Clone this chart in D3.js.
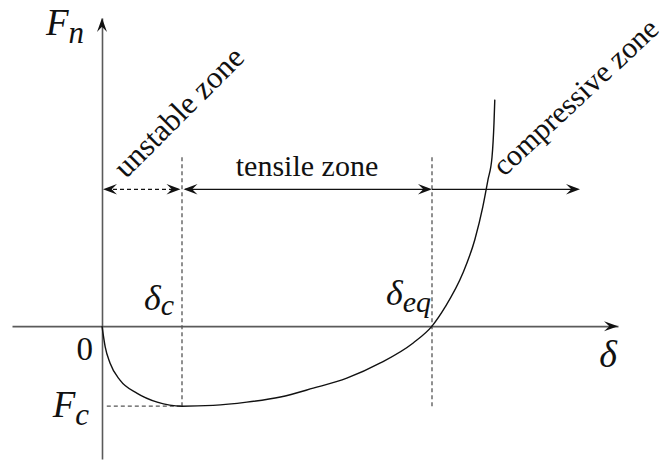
<!DOCTYPE html>
<html>
<head>
<meta charset="utf-8">
<script src="https://cdn.jsdelivr.net/npm/d3@7"></script>
</head>
<body style="margin:0">
<svg id="fd-diagram" width="672" height="461"></svg>
<script>
// Normal force F_n versus separation δ (dimensionless units, δc = 1, |Fc| = 1)
const curveDelta = [0, 0.04, 0.1, 0.225, 0.44, 0.69, 1.0, 1.39, 1.81, 2.23, 2.64, 3.06, 3.48, 3.89, 4.125, 4.29, 4.51, 4.66, 4.76, 4.825, 4.875, 4.9, 4.91];
const curveForce = [0, -0.26, -0.46, -0.675, -0.84, -0.95, -1.0, -0.99, -0.95, -0.885, -0.775, -0.65, -0.46, -0.21, 0, 0.24, 0.66, 1.08, 1.49, 1.83, 2.11, 2.54, 2.83];

// characteristic points
const deltaC = 1.0;
const deltaEq = 4.125;
const forceC = -1.0;

// zone dimension arrows
const zoneLabels = ["unstable zone", "tensile zone", "compressive zone"];
const zoneStart = [0, deltaC, deltaEq];
const zoneEnd = [deltaC, deltaEq, 5.975];
const zoneLevel = 1.71;
const guideTop = 2.11;

// axis extents
const deltaDomain = [-1.125, 6.45];
const forceDomain = [-1.66, 3.85];

const textFont = "'Liberation Serif', 'Times New Roman', Times, serif";

const svg = d3.select("#fd-diagram");

const x = d3.scaleLinear().domain(deltaDomain).range([12, 618]);
const y = d3.scaleLinear().domain(forceDomain).range([459, 18]);

// stealth arrowhead pointing along +x, tip at origin
function arrowHead(g, px, py, angle, len = 14, half = 5.2) {
  g.append("path")
    .attr("d", `M0,0 L${-len},${-half} L${-len * 0.62},0 L${-len},${half} Z`)
    .attr("transform", `translate(${px},${py}) rotate(${angle})`)
    .attr("fill", "#111")
    .attr("stroke", "none");
}

// axes without ticks
const xAxis = svg.append("g")
  .attr("transform", `translate(0,${y(0)})`)
  .call(d3.axisBottom(x).tickValues([]).tickSizeOuter(0));
const yAxis = svg.append("g")
  .attr("transform", `translate(${x(0)},0)`)
  .call(d3.axisLeft(y).tickValues([]).tickSizeOuter(0));
[xAxis, yAxis].forEach(a => a.select(".domain").attr("stroke", "#5a5a5a").attr("stroke-width", 1.6));

const arrows = svg.append("g");
arrowHead(arrows, x(deltaDomain[1]), y(0), 0, 14, 5);
arrowHead(arrows, x(0), y(forceDomain[1]), -90, 14, 5);

// dashed guides
const guides = svg.append("g")
  .attr("stroke", "#555").attr("stroke-width", 1.3).attr("stroke-dasharray", "4,3").attr("fill", "none");
[deltaC, deltaEq].forEach(d => {
  guides.append("line")
    .attr("x1", x(d)).attr("x2", x(d))
    .attr("y1", y(guideTop)).attr("y2", y(forceC));
});
guides.append("line")
  .attr("x1", x(0.06)).attr("x2", x(deltaC))
  .attr("y1", y(forceC)).attr("y2", y(forceC));

// force–displacement curve
const pts = curveDelta.map((d, i) => [d, curveForce[i]]);
svg.append("path")
  .datum(pts)
  .attr("fill", "none")
  .attr("stroke", "#111")
  .attr("stroke-width", 1.4)
  .attr("d", d3.line().x(p => x(p[0])).y(p => y(p[1])).curve(d3.curveMonotoneX));

// zone dimension lines
const zy = y(zoneLevel);
const dims = svg.append("g");
zoneLabels.forEach((lab, i) => {
  const x1 = x(zoneStart[i]), x2 = x(zoneEnd[i]);
  dims.append("line")
    .attr("x1", x1 + (i === 0 ? 4 : i === 1 ? 3 : 0)).attr("x2", x2 - 4)
    .attr("y1", zy).attr("y2", zy)
    .attr("stroke", "#111").attr("stroke-width", 1.3)
    .attr("stroke-dasharray", i === 0 ? "4,3" : null);
  if (i < 2) arrowHead(dims, x1 + (i === 1 ? 1.5 : 1), zy, 180);
  arrowHead(dims, x2 - (i === 0 ? 1.5 : 0), zy, 0);
});

function label(sel) {
  return sel.style("font-family", textFont).attr("fill", "#111");
}

// zone labels
label(svg.append("text"))
  .attr("x", (x(deltaC) + x(deltaEq)) / 2)
  .attr("y", zy - 13)
  .attr("text-anchor", "middle")
  .attr("font-size", 30)
  .text(zoneLabels[1]);

label(svg.append("text"))
  .attr("transform", `translate(${x(0) + 24},${zy - 10}) rotate(-45)`)
  .attr("font-size", 31)
  .text(zoneLabels[0]);

label(svg.append("text"))
  .attr("transform", `translate(${x(deltaEq) + 72},${zy - 12}) rotate(-43)`)
  .attr("font-size", 30)
  .text(zoneLabels[2]);

// math labels
function mathLabel(px, py, base, sub, size, subSize, subDy) {
  const t = label(svg.append("text"))
    .style("font-style", "italic")
    .attr("x", px).attr("y", py).attr("text-anchor", "end").attr("font-size", size);
  t.append("tspan").text(base);
  if (sub) t.append("tspan").attr("font-size", subSize).attr("dy", subDy).text(sub);
  return t;
}
mathLabel(x(0) - 18, y(forceDomain[1]) + 17, "F", "n", 37, 31, 8);
mathLabel(x(0) - 13, y(forceC) + 11, "F", "c", 37, 31, 8);
mathLabel(x(deltaC) - 8, y(0) - 16, "δ", "c", 36, 30, 5);
mathLabel(x(deltaEq) - 1, y(0) - 21, "δ", "eq", 36, 30, 7);
mathLabel(x(deltaDomain[1]) - 1, y(0) + 41, "δ", null, 38);

label(svg.append("text"))
  .attr("x", x(0) - 9).attr("y", y(0) + 34)
  .attr("text-anchor", "end").attr("font-size", 33)
  .text("0");
</script>
</body>
</html>
